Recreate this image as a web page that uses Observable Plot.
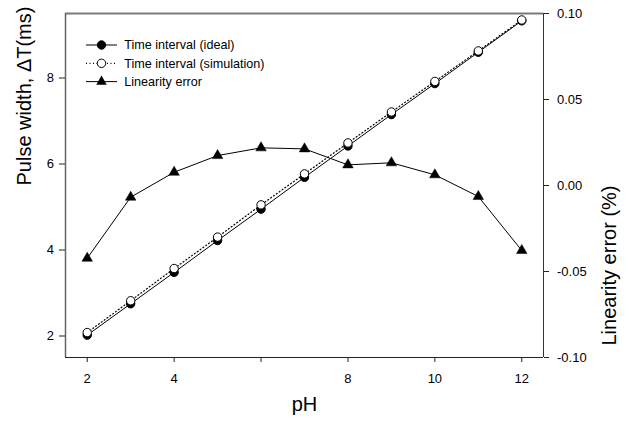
<!DOCTYPE html>
<html>
<head>
<meta charset="utf-8">
<script src="https://cdn.jsdelivr.net/npm/d3@7"></script>
<script src="https://cdn.jsdelivr.net/npm/@observablehq/plot@0.6"></script>
<style>
  html, body { margin: 0; padding: 0; background: #fff; }
</style>
</head>
<body>
<div id="chart"></div>
<script>
const pH = [2, 3, 4, 5, 6, 7, 8, 9, 10, 11, 12];
const ideal = [2.02, 2.75, 3.48, 4.22, 4.95, 5.69, 6.42, 7.15, 7.87, 8.60, 9.33];
const simulation = [2.08, 2.82, 3.57, 4.30, 5.05, 5.77, 6.49, 7.21, 7.92, 8.63, 9.35];
const linearityError = [-0.0423, -0.0068, 0.0077, 0.0174, 0.0219, 0.0213, 0.0120, 0.0132, 0.0062, -0.0064, -0.0378];

const xTicks = [2, 4, 6, 8, 10, 12];
const xTickLabels = ["2", "4", "", "8", "10", "12"];
const leftTicks = [2, 4, 6, 8];
const rightTicks = [-0.10, -0.05, 0.00, 0.05, 0.10];
const legendLabels = ["Time interval (ideal)", "Time interval (simulation)", "Linearity error"];

const xDomain = [1.5, 12.5];
const leftDomain = [1.5, 9.5];
const rightDomain = [-0.10, 0.10];
// map right-axis values into the left-axis scale
const errToLeft = v => leftDomain[0] + (v - rightDomain[0]) / (rightDomain[1] - rightDomain[0]) * (leftDomain[1] - leftDomain[0]);

const rows = pH.map((p, i) => ({pH: p, ideal: ideal[i], sim: simulation[i], err: errToLeft(linearityError[i])}));

const chart = Plot.plot({
  width: 629,
  height: 422,
  marginLeft: 65,
  marginRight: 86,
  marginTop: 13,
  marginBottom: 65,
  style: {fontFamily: "'Liberation Sans', Arial, sans-serif", fontSize: "13px", color: "#000", background: "#fff"},
  x: {domain: xDomain},
  y: {domain: leftDomain},
  marks: [
    Plot.axisX({ticks: xTicks, tickFormat: (d, i) => xTickLabels[i], tickSize: 5, tickPadding: 11, label: null, stroke: "#222"}),
    Plot.axisY({ticks: leftTicks, tickFormat: d => String(d), tickSize: 6, tickPadding: 5.5, label: null, stroke: "#222"}),
    Plot.axisY(rightTicks.map(errToLeft), {anchor: "right", tickFormat: d => ((d - leftDomain[0]) / (leftDomain[1] - leftDomain[0]) * (rightDomain[1] - rightDomain[0]) + rightDomain[0]).toFixed(2), tickSize: 5, tickPadding: 8.5, label: null, stroke: "#222"}),
    Plot.ruleY([leftDomain[1]], {stroke: "#7a7a7a", strokeWidth: 2}),
    Plot.ruleX([xDomain[0]], {stroke: "#666", strokeWidth: 1.5}),
    Plot.ruleY([leftDomain[0]], {stroke: "#222", strokeWidth: 1}),
    Plot.ruleX([xDomain[1]], {stroke: "#333", strokeWidth: 1}),
    Plot.line(rows, {x: "pH", y: "ideal", stroke: "#000", strokeWidth: 1}),
    Plot.dot(rows, {x: "pH", y: "ideal", r: 4.2, fill: "#000", stroke: "#000", strokeWidth: 1}),
    Plot.line(rows, {x: "pH", y: "sim", stroke: "#000", strokeWidth: 1.2, strokeDasharray: "1,2.5"}),
    Plot.dot(rows, {x: "pH", y: "sim", r: 4.2, fill: "#fff", stroke: "#000", strokeWidth: 1}),
    Plot.line(rows, {x: "pH", y: "err", stroke: "#000", strokeWidth: 1}),
    Plot.dot(rows, {x: "pH", y: "err", symbol: "triangle", r: 3.9, fill: "#000", stroke: "#000", strokeWidth: 0.5}),
    Plot.text(["Pulse width, \u0394T(ms)"], {frameAnchor: "left", rotate: -90, dx: -41, fontSize: 20}),
    Plot.text(["Linearity error (%)"], {frameAnchor: "right", rotate: -90, dx: 66, fontSize: 20}),
    Plot.text(["pH"], {frameAnchor: "bottom", dy: 53, fontSize: 20})
  ]
});

// legend inside the plot, top-left
const svg = d3.select(chart);
const lg = svg.append("g")
  .attr("font-family", "'Liberation Sans', Arial, sans-serif")
  .attr("font-size", 12.6)
  .attr("text-anchor", "start");
const legendStyles = [
  {dash: null, marker: "filled"},
  {dash: "1,2.5", marker: "open"},
  {dash: null, marker: "triangle"}
];
legendLabels.forEach((label, i) => {
  const y = 45 + i * 18.3;
  const s = legendStyles[i];
  lg.append("line").attr("x1", 86).attr("x2", 117).attr("y1", y).attr("y2", y)
    .attr("stroke", "#000").attr("stroke-width", s.dash ? 1.2 : 1).attr("stroke-dasharray", s.dash);
  if (s.marker === "triangle") {
    lg.append("path").attr("transform", `translate(101.5,${y})`)
      .attr("d", d3.symbol(d3.symbolTriangle, Math.PI * 3.9 * 3.9)()).attr("fill", "#000");
  } else {
    lg.append("circle").attr("cx", 101.5).attr("cy", y).attr("r", 4.2)
      .attr("fill", s.marker === "filled" ? "#000" : "#fff").attr("stroke", "#000");
  }
  lg.append("text").attr("x", 124.3).attr("y", y).attr("dy", "0.35em")
    .attr("text-anchor", "start").attr("fill", "#000").text(label);
});

document.getElementById("chart").appendChild(chart);
</script>
</body>
</html>
